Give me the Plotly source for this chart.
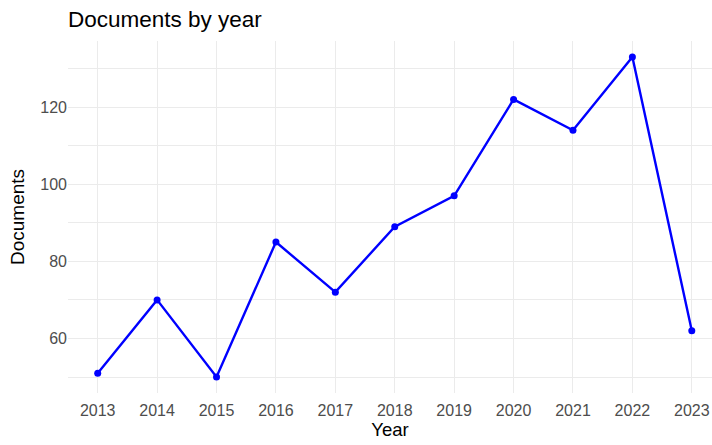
import plotly.graph_objects as go

years = [2013, 2014, 2015, 2016, 2017, 2018, 2019, 2020, 2021, 2022, 2023]
documents = [51, 70, 50, 85, 72, 89, 97, 122, 114, 133, 62]
y_ticks = [60, 80, 100, 120]

W, H = 712, 445
FONT = "Liberation Sans, Arial, sans-serif"

fig = go.Figure()
fig.add_trace(go.Scatter(
    x=years, y=documents, mode="lines+markers",
    line=dict(color="#0000FF", width=2.4),
    marker=dict(color="#0000FF", size=7),
    showlegend=False, cliponaxis=False,
))

fig.update_layout(
    width=W, height=H,
    margin=dict(l=68, r=0, t=41, b=52, autoexpand=False),
    paper_bgcolor="white", plot_bgcolor="white",
    font=dict(family=FONT),
    title=dict(text="Documents by year", x=68 / W, xanchor="left",
               y=1 - 19 / H, yanchor="middle", yref="container",
               font=dict(size=22.5, color="black", family=FONT)),
    xaxis=dict(
        range=[2012.5, 2023.34], tickmode="array", tickvals=years,
        ticktext=[str(y) for y in years],
        showgrid=True, gridcolor="#ebebeb", gridwidth=1.2,
        zeroline=False, showline=False, ticks="", automargin=False,
        ticklabelstandoff=6,
        tickfont=dict(size=16, color="#4d4d4d"),
        title=dict(text="Year", font=dict(size=18.5, color="black"), standoff=5),
    ),
    yaxis=dict(
        range=[45.85, 137.15], tickmode="array", tickvals=y_ticks,
        showgrid=True, gridcolor="#ebebeb", gridwidth=1.2,
        minor=dict(tickmode="array", tickvals=[50, 70, 90, 110, 130],
                   showgrid=True, gridcolor="#ebebeb", gridwidth=1),
        zeroline=False, showline=False, ticks="", automargin=False,
        tickfont=dict(size=16, color="#4d4d4d"),
        title=dict(text="Documents", font=dict(size=19, color="black"), standoff=10),
    ),
)

fig.write_html(
    "out.html",
    config={"displayModeBar": False},
    post_script="document.body.style.margin='0';document.body.style.overflow='hidden';",
)
